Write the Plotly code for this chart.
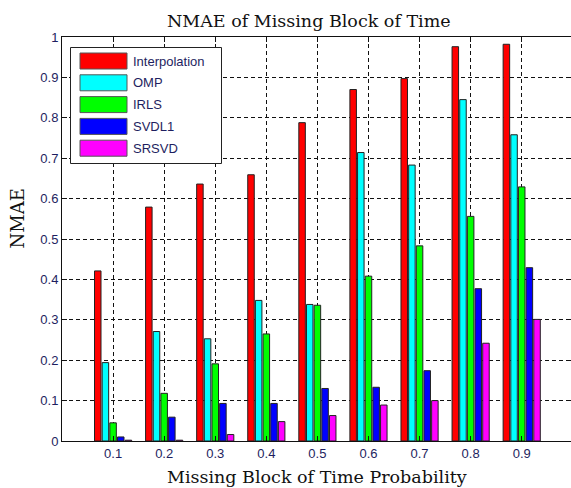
import plotly.graph_objects as go

categories = [0.1, 0.2, 0.3, 0.4, 0.5, 0.6, 0.7, 0.8, 0.9]
tick_labels = ["0.1", "0.2", "0.3", "0.4", "0.5", "0.6", "0.7", "0.8", "0.9"]
y_ticks = [0, 0.1, 0.2, 0.3, 0.4, 0.5, 0.6, 0.7, 0.8, 0.9, 1]
y_tick_labels = ["0", "0.1", "0.2", "0.3", "0.4", "0.5", "0.6", "0.7", "0.8", "0.9", "1"]

interpolation = [0.421, 0.579, 0.636, 0.659, 0.788, 0.870, 0.897, 0.976, 0.982]
omp = [0.194, 0.271, 0.253, 0.348, 0.338, 0.714, 0.683, 0.845, 0.758]
irls = [0.045, 0.118, 0.191, 0.265, 0.336, 0.408, 0.483, 0.556, 0.629]
svdl1 = [0.010, 0.059, 0.093, 0.093, 0.130, 0.133, 0.174, 0.377, 0.429]
srsvd = [0.002, 0.002, 0.016, 0.048, 0.063, 0.089, 0.100, 0.242, 0.301]

series_names = ["Interpolation", "OMP", "IRLS", "SVDL1", "SRSVD"]
series_values = [interpolation, omp, irls, svdl1, srsvd]
series_colors = ["#ff0000", "#00ffff", "#00ff00", "#0000ff", "#ff00ff"]

W, H = 571, 488
ML, MR, MT, MB = 62, 0, 37, 47
PW, PH = W - ML - MR, H - MT - MB

def px(xp):
    return (xp - ML) / PW

def py(yp):
    return (H - MB - yp) / PH

text_color = "#1e1e60"

fig = go.Figure()
for name, vals, col in zip(series_names, series_values, series_colors):
    fig.add_trace(go.Bar(
        x=categories, y=vals, name=name, showlegend=False,
        marker=dict(color=col, line=dict(color="#222222", width=1)),
    ))

# legend drawn as MATLAB-style patches
shapes = []
annotations = []
shapes.append(dict(type="rect", xref="paper", yref="paper",
                   x0=px(70.5), x1=px(221.5), y0=py(163.5), y1=py(47.5),
                   line=dict(color="#222222", width=1), fillcolor="white", layer="above"))
row_top = 53
pitch = 21.8
for i, (name, col) in enumerate(zip(series_names, series_colors)):
    t = row_top + i * pitch
    shapes.append(dict(type="rect", xref="paper", yref="paper",
                       x0=px(80), x1=px(127), y0=py(t + 16), y1=py(t),
                       line=dict(color="#555555", width=1), fillcolor=col, layer="above"))
    annotations.append(dict(xref="paper", yref="paper", x=px(131), y=py(t + 8),
                            xanchor="left", yanchor="middle", showarrow=False,
                            text=name, font=dict(family="Liberation Sans", size=13, color=text_color)))

# title and axis labels
annotations.append(dict(xref="paper", yref="paper", x=px(308.5), y=py(20.5),
                        xanchor="center", yanchor="middle", showarrow=False,
                        text="NMAE of Missing Block of Time",
                        font=dict(family="DejaVu Serif", size=17.5, color="#111111")))
annotations.append(dict(xref="paper", yref="paper", x=px(316.5), y=py(477),
                        xanchor="center", yanchor="middle", showarrow=False,
                        text="Missing Block of Time Probability",
                        font=dict(family="DejaVu Serif", size=17.5, color="#111111")))
annotations.append(dict(xref="paper", yref="paper", x=px(17.5), y=py(219),
                        xanchor="center", yanchor="middle", showarrow=False, textangle=-90,
                        text="NMAE",
                        font=dict(family="DejaVu Serif", size=18, color="#111111")))

fig.update_layout(
    width=W, height=H,
    margin=dict(l=ML, r=MR, t=MT, b=MB),
    paper_bgcolor="white", plot_bgcolor="white",
    barmode="group", bargap=0.25, bargroupgap=0.15,
    shapes=shapes, annotations=annotations,
    font=dict(family="Liberation Sans", size=13, color=text_color),
)
fig.update_xaxes(
    range=[0, (W - ML) / 510.8], tickvals=categories, ticktext=tick_labels,
    showgrid=True, gridcolor="#111111", gridwidth=1, griddash="4px,3px",
    showline=True, linecolor="#111111", linewidth=1, mirror="ticks",
    ticks="inside", ticklen=5, tickcolor="#111111", zeroline=False,
    tickfont=dict(family="Liberation Sans", size=13, color=text_color),
)
fig.update_yaxes(
    range=[0, 1], tickvals=y_ticks, ticktext=y_tick_labels,
    showgrid=True, gridcolor="#111111", gridwidth=1, griddash="4px,3px",
    showline=True, linecolor="#111111", linewidth=1, mirror="ticks",
    ticks="inside", ticklen=5, tickcolor="#111111", zeroline=False,
    tickfont=dict(family="Liberation Sans", size=13, color=text_color),
)

fig.write_html("out.html")
